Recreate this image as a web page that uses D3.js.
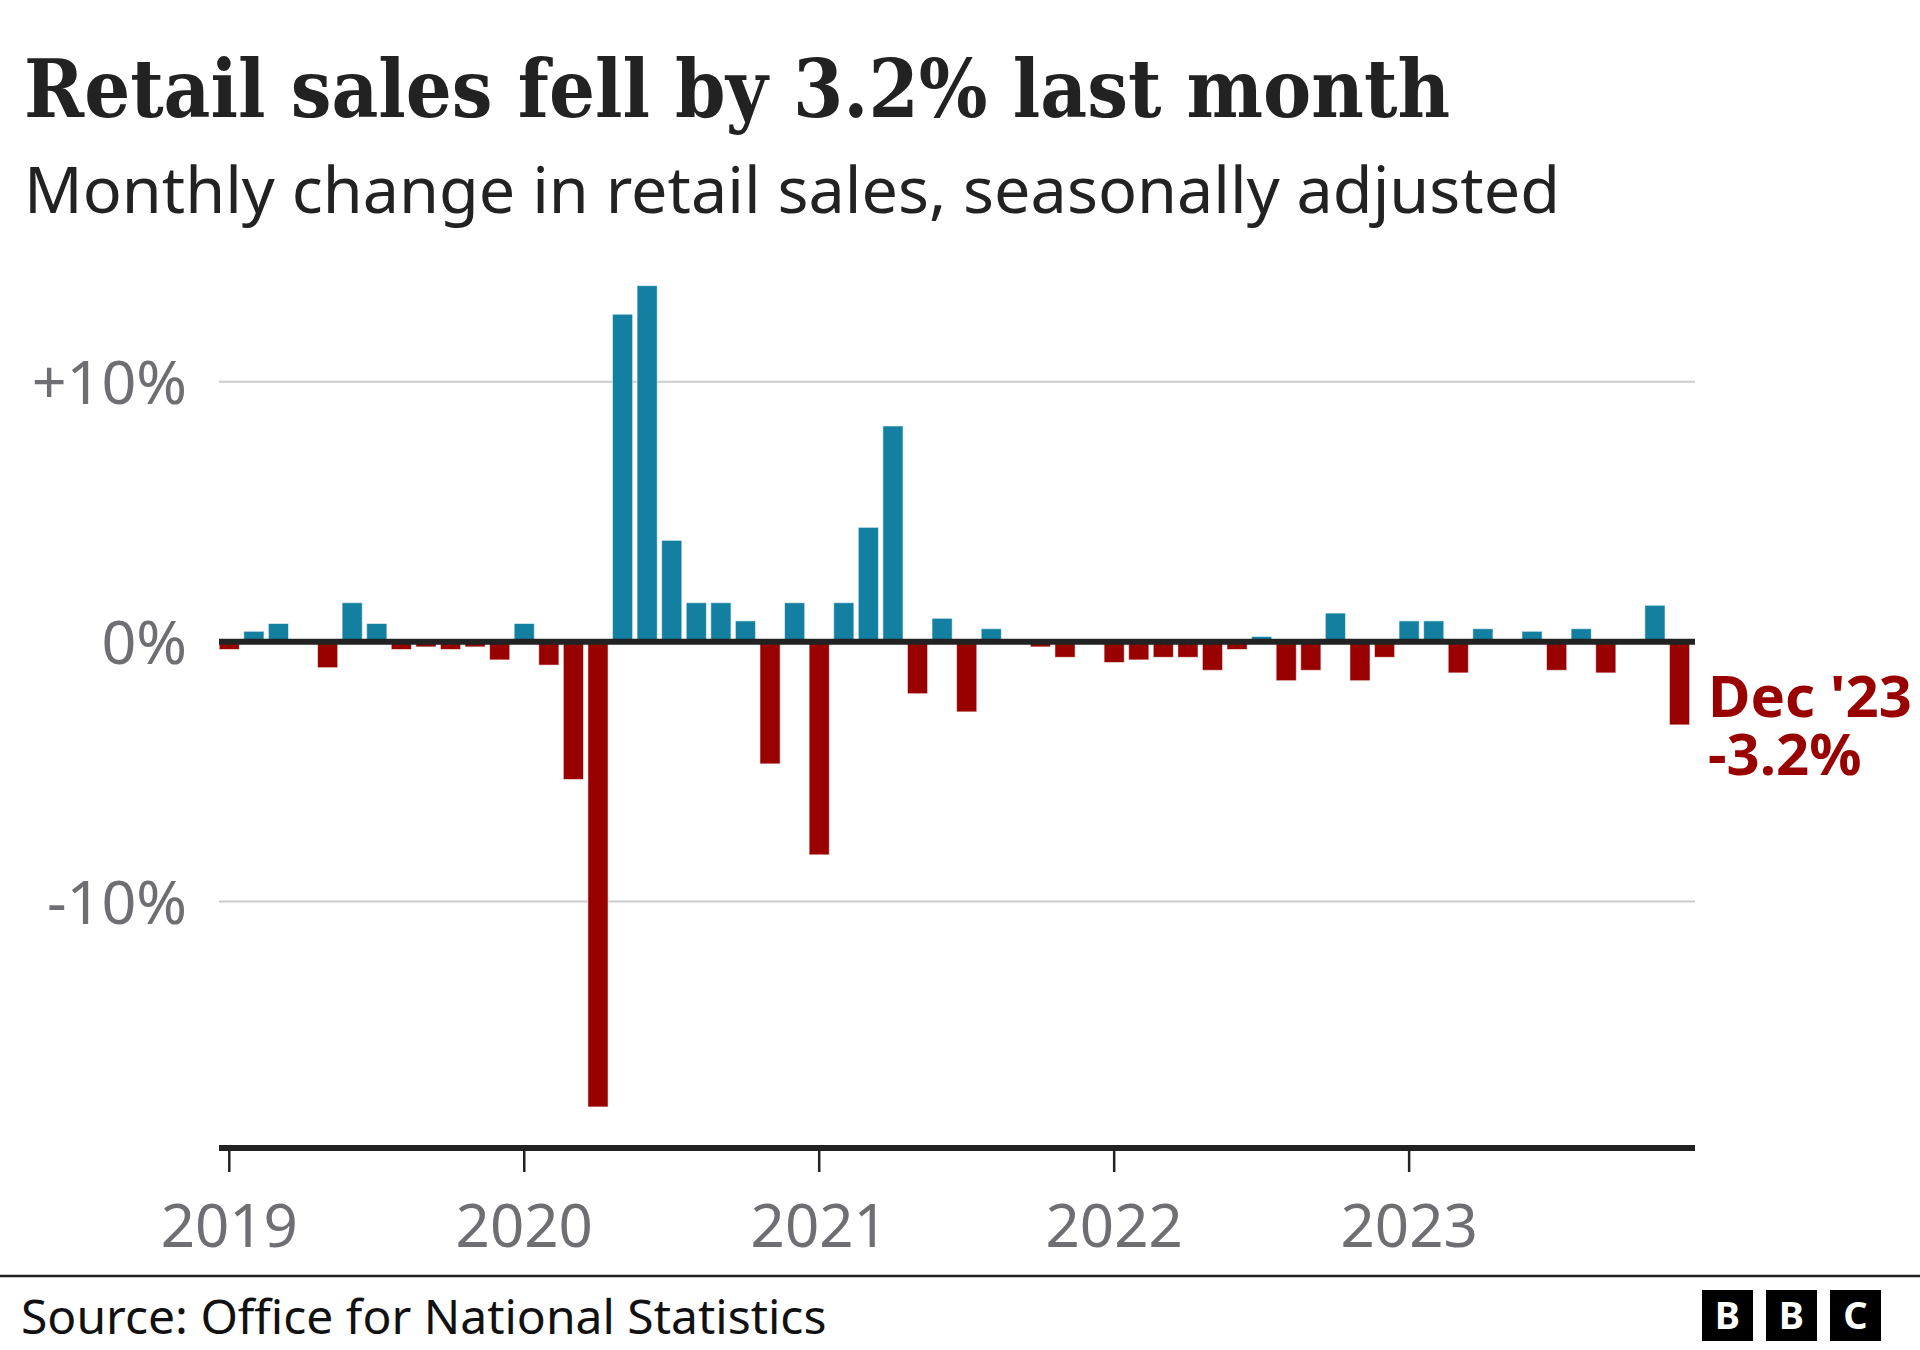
<!DOCTYPE html>
<html>
<head>
<meta charset="utf-8">
<script src="https://cdn.jsdelivr.net/npm/d3@7"></script>
<style>
  html, body { margin: 0; padding: 0; background: #fff; }
  svg { display: block; }
</style>
</head>
<body>
<svg id="chart" width="1920" height="1350"></svg>
<script>
const months = [
  "Jan 2019","Feb 2019","Mar 2019","Apr 2019","May 2019","Jun 2019","Jul 2019","Aug 2019","Sep 2019","Oct 2019","Nov 2019","Dec 2019",
  "Jan 2020","Feb 2020","Mar 2020","Apr 2020","May 2020","Jun 2020","Jul 2020","Aug 2020","Sep 2020","Oct 2020","Nov 2020","Dec 2020",
  "Jan 2021","Feb 2021","Mar 2021","Apr 2021","May 2021","Jun 2021","Jul 2021","Aug 2021","Sep 2021","Oct 2021","Nov 2021","Dec 2021",
  "Jan 2022","Feb 2022","Mar 2022","Apr 2022","May 2022","Jun 2022","Jul 2022","Aug 2022","Sep 2022","Oct 2022","Nov 2022","Dec 2022",
  "Jan 2023","Feb 2023","Mar 2023","Apr 2023","May 2023","Jun 2023","Jul 2023","Aug 2023","Sep 2023","Oct 2023","Nov 2023","Dec 2023"
];
const changes = [
  -0.3, 0.4, 0.7, 0.0, -1.0, 1.5, 0.7, -0.3, -0.2, -0.3, -0.2, -0.7,
  0.7, -0.9, -5.3, -17.9, 12.6, 13.7, 3.9, 1.5, 1.5, 0.8, -4.7, 1.5,
  -8.2, 1.5, 4.4, 8.3, -2.0, 0.9, -2.7, 0.5, 0.0, -0.2, -0.6, 0.0,
  -0.8, -0.7, -0.6, -0.6, -1.1, -0.3, 0.2, -1.5, -1.1, 1.1, -1.5, -0.6,
  0.8, 0.8, -1.2, 0.5, 0.0, 0.4, -1.1, 0.5, -1.2, 0.0, 1.4, -3.2
];
const yTicks = [10, 0, -10];
const yTickLabels = ["+10%", "0%", "-10%"];
const xTickMonths = ["Jan 2019","Jan 2020","Jan 2021","Jan 2022","Jan 2023"];
const xTickLabels = ["2019","2020","2021","2022","2023"];
const titleText = "Retail sales fell by 3.2% last month";
const subtitleText = "Monthly change in retail sales, seasonally adjusted";
const sourceText = "Source: Office for National Statistics";
const annoLines = ["Dec '23", "-3.2%"];

const svg = d3.select("#chart");
const SANS = "'Noto Sans', 'Open Sans', sans-serif";

const x = d3.scaleBand().domain(months).range([217.0, 1691.8]).paddingInner(0.18).paddingOuter(0.09);
const y = d3.scaleLinear().domain([-10, 10]).range([901.6, 381.8]);
const plotLeft = 219, plotRight = 1695;

// Title & subtitle
svg.append("text")
  .attr("x", 24).attr("y", 117)
  .attr("font-family", "'DejaVu Serif', serif").attr("font-weight", "bold")
  .attr("font-size", 80).attr("fill", "#222")
  .attr("textLength", 1426).attr("lengthAdjust", "spacingAndGlyphs")
  .text(titleText);

svg.append("text")
  .attr("x", 24).attr("y", 213)
  .attr("font-family", SANS).attr("font-size", 64).attr("fill", "#222")
  .attr("textLength", 1536).attr("lengthAdjust", "spacingAndGlyphs")
  .text(subtitleText);

// Gridlines
svg.append("g").selectAll("line").data(yTicks.filter(d => d !== 0)).join("line")
  .attr("x1", plotLeft).attr("x2", plotRight)
  .attr("y1", d => y(d)).attr("y2", d => y(d))
  .attr("stroke", "#cccccc").attr("stroke-width", 2);

// Y axis labels
const yAxis = d3.axisLeft(y).tickValues(yTicks)
  .tickFormat((d, i) => yTickLabels[i]).tickSize(0).tickPadding(32);
const gy = svg.append("g").attr("transform", `translate(${plotLeft},0)`).call(yAxis);
gy.select(".domain").remove();
gy.selectAll("text")
  .attr("font-family", SANS).attr("font-size", 61).attr("fill", "#6e6e73")
  .attr("dy", "0.36em");

// Bars
svg.append("g").selectAll("rect").data(changes).join("rect")
  .attr("x", (d, i) => x(months[i]))
  .attr("width", x.bandwidth())
  .attr("y", d => y(Math.max(0, d)))
  .attr("height", d => Math.abs(y(d) - y(0)))
  .attr("fill", d => d >= 0 ? "#1380a1" : "#990000")
  .attr("stroke", "rgba(255,255,255,0.55)").attr("stroke-width", 1);

// Zero line
svg.append("line")
  .attr("x1", plotLeft).attr("x2", plotRight)
  .attr("y1", y(0)).attr("y2", y(0))
  .attr("stroke", "#222").attr("stroke-width", 6);

// Bottom axis
const axisY = 1148;
const xAxis = d3.axisBottom(x).tickValues(xTickMonths)
  .tickFormat((d, i) => xTickLabels[i]).tickSize(24).tickPadding(0);
const gx = svg.append("g").attr("transform", `translate(0,${axisY})`).call(xAxis);
gx.select(".domain").remove();
gx.selectAll(".tick line").attr("stroke", "#222").attr("stroke-width", 2.5);
gx.selectAll("text")
  .attr("font-family", SANS).attr("font-size", 60).attr("fill", "#6e6e73")
  .attr("dy", null).attr("y", 99);
svg.append("line")
  .attr("x1", plotLeft).attr("x2", plotRight)
  .attr("y1", axisY).attr("y2", axisY)
  .attr("stroke", "#222").attr("stroke-width", 6);

// Annotation (single text block, two lines)
const anno = svg.append("text")
  .attr("x", 1708).attr("y", 717)
  .attr("font-family", SANS).attr("font-weight", "bold").attr("font-size", 58)
  .attr("fill", "#990000");
anno.selectAll("tspan").data(annoLines).join("tspan")
  .attr("x", 1708).attr("dy", (d, i) => i === 0 ? 0 : 58)
  .text(d => d);

// Footer
svg.append("line")
  .attr("x1", 0).attr("x2", 1920).attr("y1", 1276).attr("y2", 1276)
  .attr("stroke", "#222").attr("stroke-width", 2.5);
svg.append("text")
  .attr("x", 21).attr("y", 1334)
  .attr("font-family", SANS).attr("font-size", 48).attr("fill", "#111")
  .text(sourceText);

// BBC blocks
const logoLetters = ["B", "B", "C"];
const logo = svg.append("g").attr("transform", "translate(1702,1290)");
logo.selectAll("rect").data(logoLetters).join("rect")
  .attr("x", (d, i) => i * 64).attr("y", 0).attr("width", 51).attr("height", 51)
  .attr("fill", "#000");
logo.selectAll("text").data(logoLetters).join("text")
  .attr("x", (d, i) => i * 64 + 25.5).attr("y", 39)
  .attr("text-anchor", "middle")
  .attr("font-family", SANS).attr("font-weight", "bold").attr("font-size", 38)
  .attr("fill", "#fff")
  .text(d => d);
</script>
</body>
</html>
